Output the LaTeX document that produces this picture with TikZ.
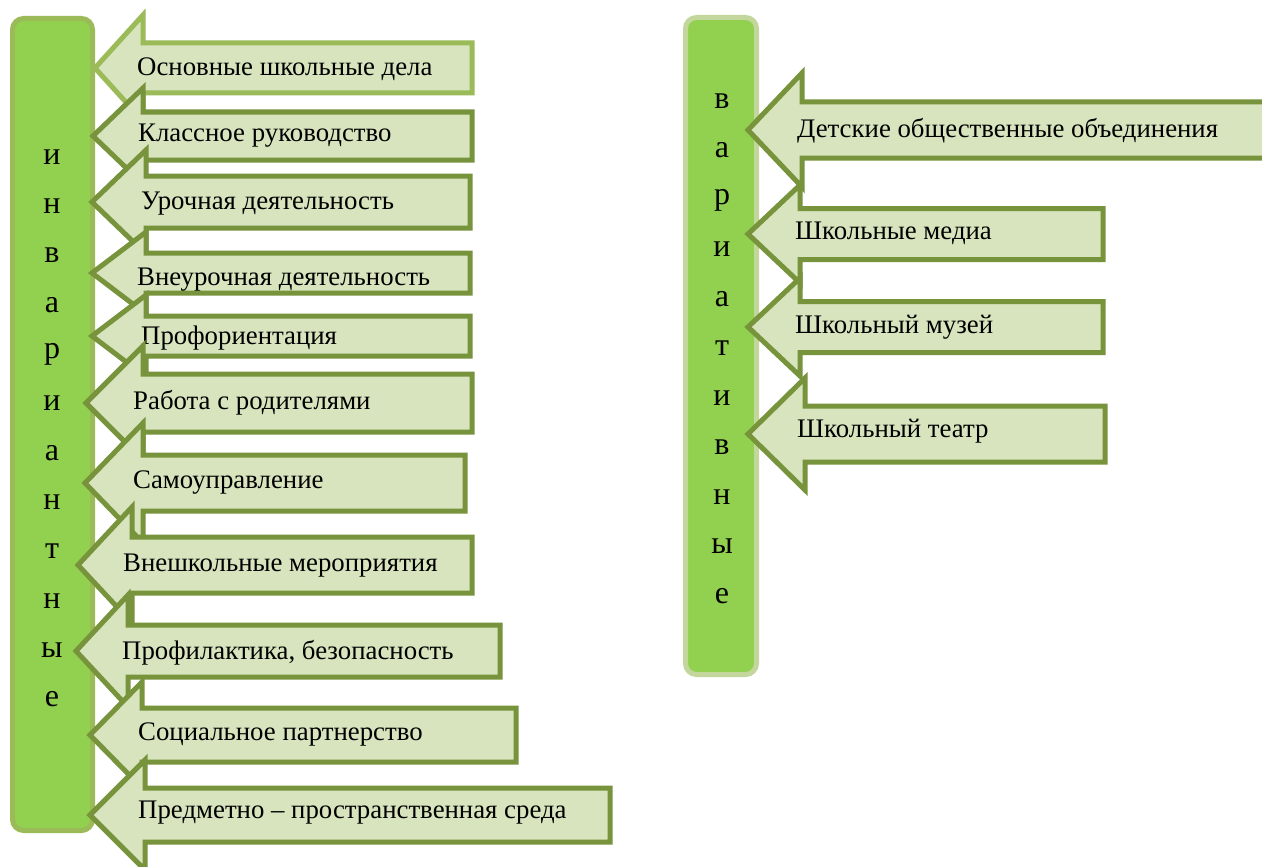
\documentclass[tikz,border=0pt]{standalone}
\usepackage{fontspec}
\setmainfont{Liberation Serif}
\newfontfamily\tnr{Liberation Serif}
\definecolor{barfill}{HTML}{92D050}
\definecolor{barleftdraw}{HTML}{9BBB59}
\definecolor{barrightdraw}{HTML}{C3D69B}
\definecolor{arrfill}{HTML}{D7E4BD}
\definecolor{arrdraw}{HTML}{77933C}
\definecolor{arrlight}{HTML}{9BBB59}
\tikzset{
  arrowshape/.style={fill=arrfill, draw=arrdraw, line width=5pt, line join=miter, miter limit=20},
  lightarrow/.style={draw=arrlight},
  lbl/.style={anchor=west, inner sep=0pt, font=\tnr\fontsize{26.8}{30}\selectfont, text=black},
  barletter/.style={inner sep=0pt, font=\tnr\fontsize{32}{36}\selectfont, text=black},
  barbox/.style={fill=barfill, line width=5pt, rounded corners=11pt},
}
% #1 tip x, #2 centre y, #3 body half height, #4 head half height, #5 head base x, #6 right x, #7 extra style
\newcommand\leftarr[7]{%
  \path[arrowshape,#7] (#1,#2) -- (#5,#2-#4) -- (#5,#2-#3) -- (#6,#2-#3) -- (#6,#2+#3) -- (#5,#2+#3) -- (#5,#2+#4) -- cycle;}
\begin{document}
\begin{tikzpicture}[x=1pt,y=-1pt]
\clip (0,0) rectangle (1262,867);
\fill[white] (0,0) rectangle (1262,867);

% left bar
\draw[barbox, draw=barleftdraw] (12.5,18.5) rectangle (92.5,830.5);
\foreach \l [count=\i from 0] in {и,н,в,а,р,и,а,н,т,н,ы,е}{
  \node[barletter] (L\i) at (52,157+49.3*\i) {\l};
}

% right bar
\draw[barbox, draw=barrightdraw] (685.5,17.5) rectangle (756.5,674.5);
\foreach \l [count=\i from 0] in {в,а,р,и,а,т,и,в,н,ы,е}{
  \node[barletter] (R\i) at (722,101+49.5*\i) {\l};
}

% left arrows
\leftarr{95}{68}{25}{53}{143}{472}{lightarrow}
\node[lbl] (a1) at (137,69) {Основные школьные дела};
\leftarr{93}{136}{24}{48}{143}{472}{}
\node[lbl] (a2) at (138,136) {Классное руководство};
\leftarr{92}{202}{26}{52}{146}{470}{}
\node[lbl] (a3) at (141,204) {Урочная деятельность};
\leftarr{92}{273}{20}{41}{146}{470}{}
\begin{scope}
  \clip (100,240) rectangle (470,291);
  \node[lbl] (a4) at (137,280) {Внеурочная деятельность};
\end{scope}
\leftarr{92}{336}{20}{41}{146}{470}{}
\node[lbl] (a5) at (141,338) {Профориентация};
\leftarr{86}{403}{29}{57}{143}{472}{}
\node[lbl] (a6) at (133,403) {Работа с родителями};
\leftarr{85}{483}{28}{60}{143}{465}{}
\node[lbl] (a7) at (133,483) {Самоуправление};
\leftarr{78}{565}{28}{58}{132}{472}{}
\node[lbl] (a8) at (123,566) {Внешкольные мероприятия};
\leftarr{76}{651}{26}{56}{128}{500}{}
\node[lbl] (a9) at (122,653) {Профилактика, безопасность};
\leftarr{90}{735}{27}{53}{142}{516}{}
\node[lbl] (a10) at (138,734) {Социальное партнерство};
\leftarr{90}{815}{27}{55}{145}{610}{}
\node[lbl] (a11) at (138,813) {Предметно – пространственная среда};

% right arrows
\leftarr{748}{130}{28}{57}{802}{1275}{}
\node[lbl] (b1) at (797,131) {Детские общественные объединения};
\leftarr{748}{234}{25.5}{49}{800}{1103}{}
\node[lbl] (b2) at (795,233) {Школьные медиа};
\leftarr{748}{327}{25.5}{49}{800}{1103}{}
\node[lbl] (b3) at (795,327) {Школьный музей};
\leftarr{748}{434}{28}{56}{805}{1105}{}
\node[lbl] (b4) at (797,431) {Школьный театр};
\end{tikzpicture}
\end{document}
